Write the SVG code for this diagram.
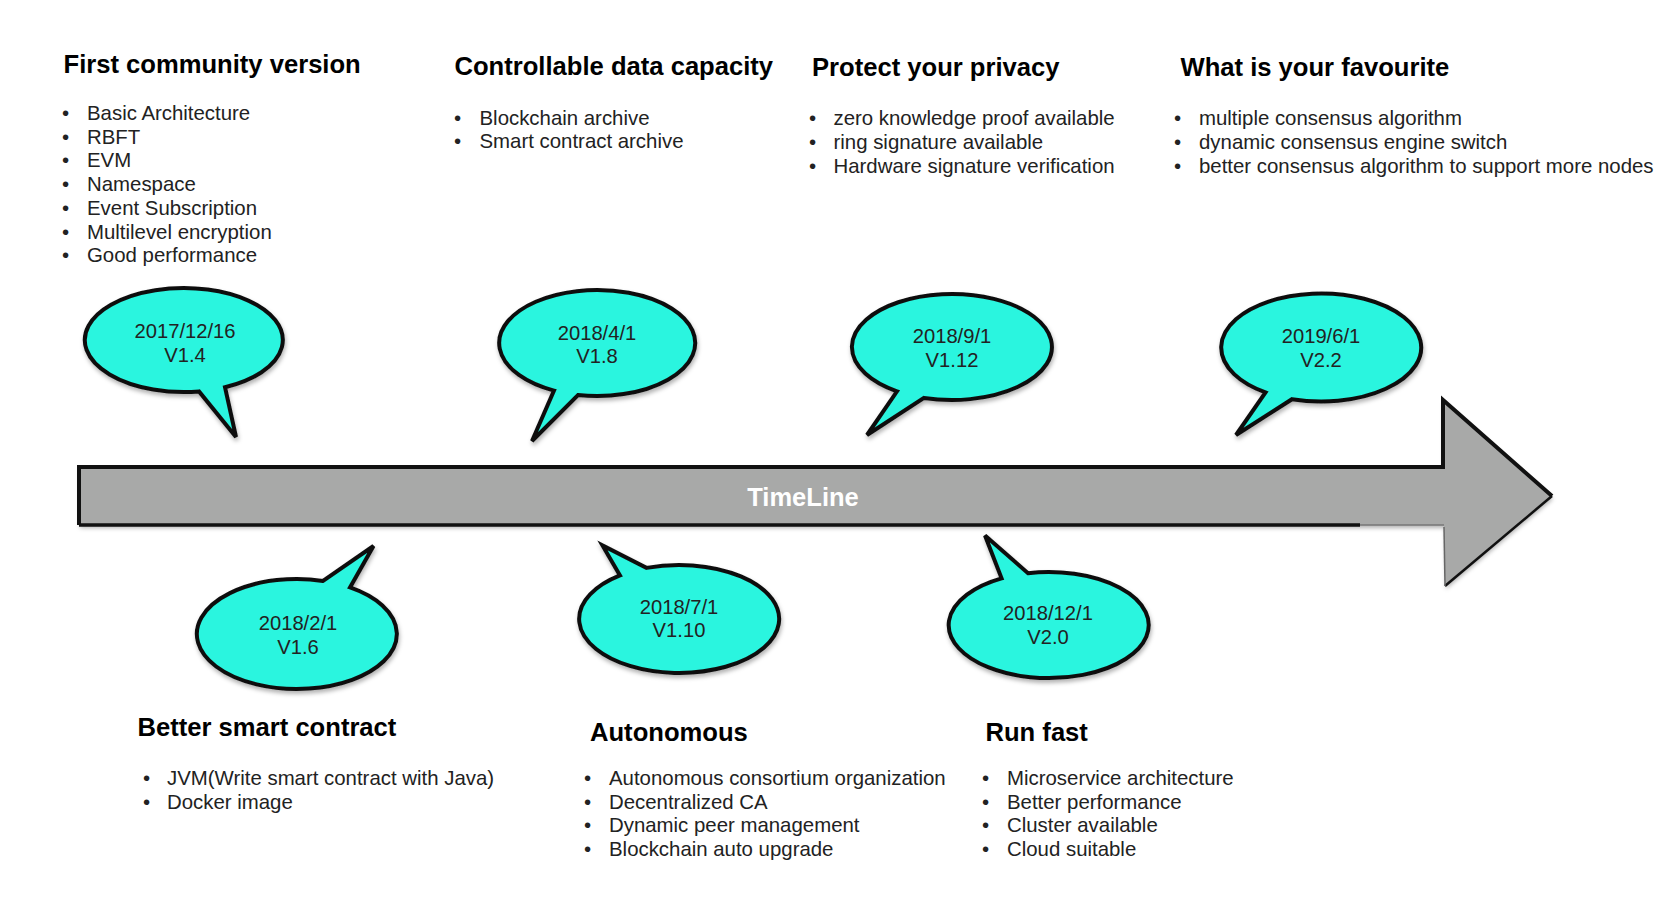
<svg xmlns="http://www.w3.org/2000/svg" width="1662" height="914" viewBox="0 0 1662 914">
<style>
.h{font-family:"Liberation Sans",Arial,sans-serif;font-weight:bold;font-size:25.6px;fill:#000}
.li{font-family:"Liberation Sans",Arial,sans-serif;font-size:20.4px;fill:#222}
.bt{font-family:"Liberation Sans",Arial,sans-serif;font-size:20.2px;fill:#222;text-anchor:middle}
.bub{fill:#2cf5df;stroke:#111;stroke-width:4;stroke-linejoin:miter;filter:url(#sh)}
.tl{font-family:"Liberation Sans",Arial,sans-serif;font-weight:bold;font-size:25.5px;fill:#fff;text-anchor:middle}
</style>
<defs>
<filter id="sh" x="-20%" y="-20%" width="140%" height="150%">
<feDropShadow dx="1" dy="3" stdDeviation="2" flood-color="#000" flood-opacity="0.3"/>
</filter>
</defs>
<rect width="1662" height="914" fill="#fff"/>

<g id="timeline">
<polygon points="79,467 1443,467 1443,400 1552,496 1445,586 1444,525 79,525" fill="#a8a9a8" filter="url(#sh)"/>
<path d="M79,525 L79,467 L1443,467 L1443,400 L1552,496" fill="none" stroke="#111" stroke-width="4" stroke-linejoin="miter"/>
<path d="M1552,496 L1445,586" fill="none" stroke="#111" stroke-width="2.5"/>
<path d="M1445,586 L1444,527" fill="none" stroke="#666" stroke-width="1.5"/>
<path d="M79,525 L1360,525" fill="none" stroke="#111" stroke-width="3.5"/>
<path d="M1360,525 L1444,525" fill="none" stroke="#777" stroke-width="1.5"/>
<text class="tl" x="803" y="506">TimeLine</text>
</g>

<g id="v14">
<path class="bub" d="M199,391.4 A99,52 0 1 1 225,387.3 L236,437 Z"/>
<text class="bt" x="185" y="338">2017/12/16</text>
<text class="bt" x="185" y="362">V1.4</text>
</g>
<g id="v18">
<path class="bub" d="M554,390.6 A98,53 0 1 1 578,395 L532,441 Z"/>
<text class="bt" x="597" y="340">2018/4/1</text>
<text class="bt" x="597" y="363">V1.8</text>
</g>
<g id="v112">
<path class="bub" d="M897,391.3 A100,53 0 1 1 924,397.9 L867,435 Z"/>
<text class="bt" x="952" y="343">2018/9/1</text>
<text class="bt" x="952" y="367">V1.12</text>
</g>
<g id="v22">
<path class="bub" d="M1265.5,392.4 A100,54 0 1 1 1292,399.2 L1236,435 Z"/>
<text class="bt" x="1321" y="343">2019/6/1</text>
<text class="bt" x="1321" y="367">V2.2</text>
</g>
<g id="v16">
<path class="bub" d="M350,587.4 A100,55 0 1 1 323,580.9 L373.5,546 Z"/>
<text class="bt" x="298" y="630">2018/2/1</text>
<text class="bt" x="298" y="654">V1.6</text>
</g>
<g id="v110">
<path class="bub" d="M646.5,567.9 A100,54 0 1 1 620,575.4 L602.5,545.5 Z"/>
<text class="bt" x="679" y="614">2018/7/1</text>
<text class="bt" x="679" y="637">V1.10</text>
</g>
<g id="v20">
<path class="bub" d="M1028,573.2 A100,53 0 1 1 1001.6,578.3 L985,535.5 Z"/>
<text class="bt" x="1048" y="620">2018/12/1</text>
<text class="bt" x="1048" y="644">V2.0</text>
</g>

<g id="first-community-version">
<text class="h" x="63.5" y="73">First community version</text>
<g class="li">
<text x="62" y="120">•</text><text x="87" y="120">Basic Architecture</text>
<text x="62" y="144">•</text><text x="87" y="144">RBFT</text>
<text x="62" y="167">•</text><text x="87" y="167">EVM</text>
<text x="62" y="191">•</text><text x="87" y="191">Namespace</text>
<text x="62" y="215">•</text><text x="87" y="215">Event Subscription</text>
<text x="62" y="239">•</text><text x="87" y="239">Multilevel encryption</text>
<text x="62" y="262">•</text><text x="87" y="262">Good performance</text>
</g>
</g>

<g id="controllable-data-capacity">
<text class="h" x="454.5" y="75">Controllable data capacity</text>
<g class="li">
<text x="454" y="125">•</text><text x="479.5" y="125">Blockchain archive</text>
<text x="454" y="148">•</text><text x="479.5" y="148">Smart contract archive</text>
</g>
</g>

<g id="protect-your-privacy">
<text class="h" x="812" y="76">Protect your privacy</text>
<g class="li">
<text x="809" y="125">•</text><text x="833.5" y="125">zero knowledge proof available</text>
<text x="809" y="149">•</text><text x="833.5" y="149">ring signature available</text>
<text x="809" y="173">•</text><text x="833.5" y="173">Hardware signature verification</text>
</g>
</g>

<g id="what-is-your-favourite">
<text class="h" x="1180.5" y="76">What is your favourite</text>
<g class="li">
<text x="1174" y="125">•</text><text x="1199" y="125">multiple consensus algorithm</text>
<text x="1174" y="149">•</text><text x="1199" y="149">dynamic consensus engine switch</text>
<text x="1174" y="173">•</text><text x="1199" y="173">better consensus algorithm to support more nodes</text>
</g>
</g>

<g id="better-smart-contract">
<text class="h" x="137.5" y="736">Better smart contract</text>
<g class="li">
<text x="143" y="785">•</text><text x="167" y="785">JVM(Write smart contract with Java)</text>
<text x="143" y="809">•</text><text x="167" y="809">Docker image</text>
</g>
</g>

<g id="autonomous">
<text class="h" x="590" y="741">Autonomous</text>
<g class="li">
<text x="584" y="785">•</text><text x="609" y="785">Autonomous consortium organization</text>
<text x="584" y="809">•</text><text x="609" y="809">Decentralized CA</text>
<text x="584" y="832">•</text><text x="609" y="832">Dynamic peer management</text>
<text x="584" y="856">•</text><text x="609" y="856">Blockchain auto upgrade</text>
</g>
</g>

<g id="run-fast">
<text class="h" x="985.5" y="741">Run fast</text>
<g class="li">
<text x="982" y="785">•</text><text x="1007" y="785">Microservice architecture</text>
<text x="982" y="809">•</text><text x="1007" y="809">Better performance</text>
<text x="982" y="832">•</text><text x="1007" y="832">Cluster available</text>
<text x="982" y="856">•</text><text x="1007" y="856">Cloud suitable</text>
</g>
</g>
</svg>
